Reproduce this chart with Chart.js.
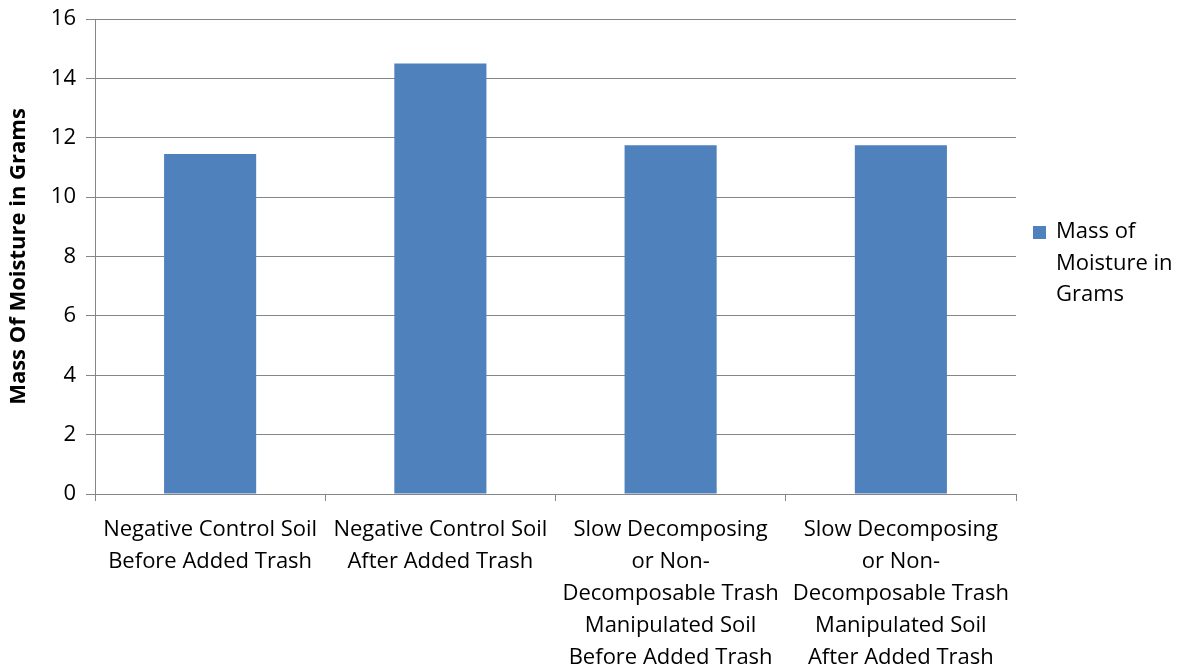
<!DOCTYPE html>
<html><head><meta charset="utf-8">
<script src="https://cdn.jsdelivr.net/npm/chart.js@4/dist/chart.umd.min.js"></script>
<style>html,body{margin:0;padding:0;background:#fff}#wrap{width:1187px;height:671px}</style>
</head><body><div id="wrap"><canvas id="c" width="1187" height="671"></canvas></div>
<script>
const categories = [
  ["Negative Control Soil","Before Added Trash"],
  ["Negative Control Soil","After Added Trash"],
  ["Slow Decomposing","or Non-","Decomposable Trash","Manipulated Soil","Before Added Trash"],
  ["Slow Decomposing","or Non-","Decomposable Trash","Manipulated Soil","After Added Trash"]
];
const seriesName = "Mass of Moisture in Grams";
const legendLines = ["Mass of","Moisture in","Grams"];
const values = [11.45, 14.5, 11.75, 11.75];
const yTitle = "Mass Of Moisture in Grams";

const FONT = "'Open Sans', Lato, sans-serif";
const GRID = "#868686";
const BAR = "#4f81bd";

const legendPlugin = {
  id: 'sideLegend',
  afterDraw(chart) {
    const ctx = chart.ctx;
    ctx.save();
    ctx.fillStyle = BAR;
    ctx.fillRect(1033, 226, 13, 13);
    ctx.fillStyle = "#000";
    ctx.font = "22px " + FONT;
    ctx.textBaseline = "middle";
    legendLines.forEach((t, i) => ctx.fillText(t, 1056, 232 + i * 31.5));
    ctx.restore();
  }
};

new Chart(document.getElementById('c'), {
  type: 'bar',
  data: { labels: categories, datasets: [{ label: seriesName, data: values, backgroundColor: BAR, barPercentage: 0.4, categoryPercentage: 1.0 }] },
  options: {
    responsive: false, animation: false,
    layout: { padding: { left: 4, right: 171, top: 19, bottom: 0 } },
    plugins: { legend: { display: false }, tooltip: { enabled: false } },
    scales: {
      x: {
        grid: { display: true, drawOnChartArea: false, drawTicks: true, tickLength: 7, color: GRID, offset: true },
        border: { display: true, color: GRID, width: 1 },
        ticks: { color: "#000", font: { family: FONT, size: 22, lineHeight: 1.45 }, maxRotation: 0, minRotation: 0, autoSkip: false, padding: 13 },
        afterFit(s) { s.height = 177; }
      },
      y: {
        min: 0, max: 16,
        grid: { color: GRID, tickLength: 9, lineWidth: 1 },
        border: { display: true, color: GRID },
        ticks: { stepSize: 2, color: "#000", font: { family: FONT, size: 22 }, padding: 10 },
        title: { display: true, text: yTitle, color: "#000", font: { family: FONT, size: 22, weight: 'bold' }, padding: { top: 2, bottom: 6 } },
        afterFit(s) { s.width = 91; s.paddingTop = 0; s.paddingBottom = 0; }
      }
    }
  },
  plugins: [legendPlugin]
});
</script></body></html>
